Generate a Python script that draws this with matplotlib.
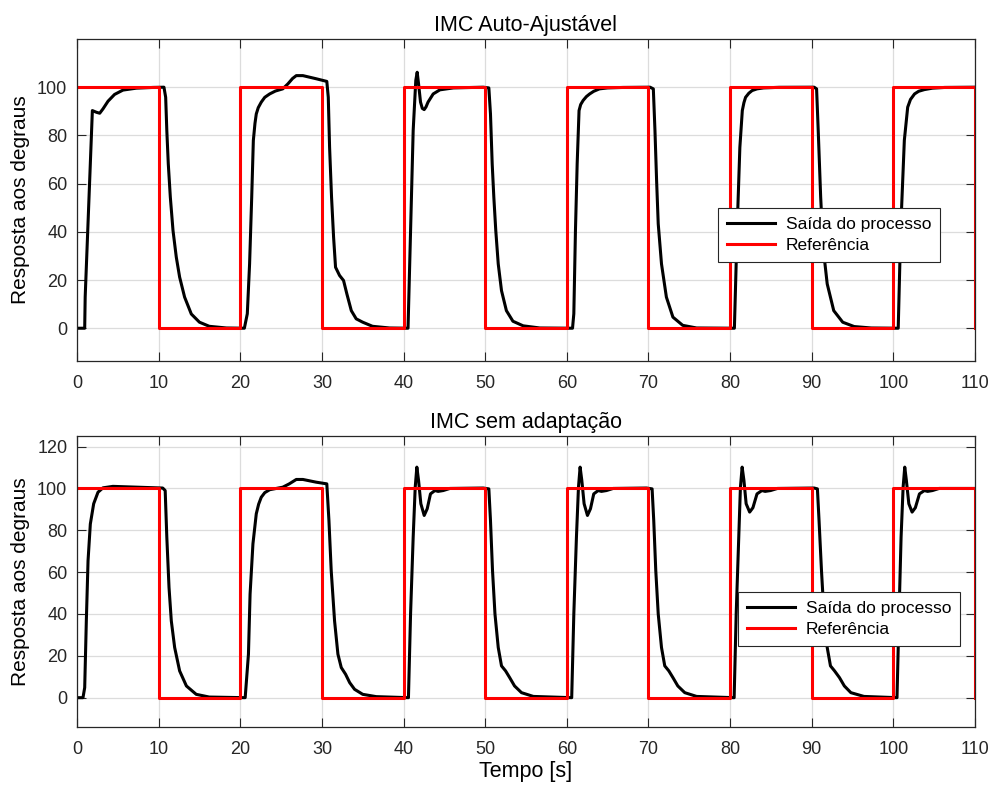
import matplotlib
matplotlib.use("Agg")
import matplotlib.pyplot as plt

plt.rcParams['font.family'] = ['Liberation Sans', 'DejaVu Sans']

# referencia (onda quadrada)
ref_t = [0, 10, 10, 20, 20, 30, 30, 40, 40, 50, 50, 60, 60, 70, 70, 80, 80, 90, 90, 100, 100, 110, 110]
ref_y = [100, 100, 0, 0, 100, 100, 0, 0, 100, 100, 0, 0, 100, 100, 0, 0, 100, 100, 0, 0, 100, 100, 0]

# IMC auto-ajustavel (saida do processo)
auto_t = [0, 0.94, 1.0, 1.88, 2.37, 2.78, 3.18, 3.8, 4.6, 5.63, 7.27, 9.3, 10.65,
          10.86, 11.0, 11.18, 11.43, 11.76, 12.16, 12.57, 13.18, 14.0, 15.0, 16.2, 18.3, 20.5,
          20.86, 21.14, 21.4, 21.6, 21.8, 21.96, 22.2, 22.57, 23.0, 23.6, 24.3, 25.2, 25.84, 26.4, 26.86, 27.67, 29.3, 30.6,
          30.78, 30.94, 31.18, 31.43, 31.67, 32.16, 32.65, 33.06, 33.6, 34.2, 35.0, 36.2, 38.3, 40.55,
          40.86, 41.18, 41.5, 41.67, 41.84, 42.08, 42.3, 42.53, 42.75, 43.0, 43.63, 44.45, 46.1, 49.76, 50.45,
          50.65, 50.86, 51.06, 51.3, 51.6, 52.0, 52.6, 53.4, 54.65, 56.7, 60.7,
          60.86, 61.06, 61.27, 61.5, 61.7, 62.0, 62.4, 62.8, 63.3, 64.0, 65.0, 66.9, 70.2, 70.6,
          70.8, 71.0, 71.2, 71.6, 72.2, 73.0, 74.2, 75.9, 80.53,
          80.86, 81.2, 81.5, 81.7, 81.9, 82.3, 82.7, 83.3, 84.1, 86.0, 90.3, 90.6,
          90.8, 91.1, 91.4, 91.9, 92.7, 93.8, 95.2, 97.3, 100.6,
          100.9, 101.35, 101.76, 102.1, 102.6, 103.1, 103.8, 104.8, 106.3, 110]
auto_y = [0, 0, 13, 90.3, 89.6, 89.2, 91, 94.2, 97, 98.8, 99.6, 99.9, 100,
          95.8, 82, 68.2, 54.4, 40.5, 29.5, 21.2, 12.9, 5.9, 2.5, 0.8, 0.1, 0,
          6, 26.7, 54.4, 77.9, 85, 88.9, 91.5, 93.8, 95.8, 97.2, 98.4, 99.3, 101.4, 103.6, 104.8, 104.8, 103.5, 102.4,
          95.8, 75.1, 54.4, 37.8, 25.3, 21.9, 19.8, 14.2, 7.3, 3.9, 2.5, 0.8, 0.1, 0,
          40.5, 82, 102.8, 106.2, 101.4, 93.8, 91.2, 90.7, 91.8, 93.8, 97.2, 98.9, 99.7, 100, 99.7,
          88.9, 68.2, 54.4, 40.5, 26.7, 15.6, 7.3, 2.9, 1.0, 0.1, 0,
          6, 40.5, 68.2, 90.3, 92.8, 94.5, 96.1, 97.2, 98.3, 99.3, 99.7, 99.9, 100, 99.3,
          82, 61.3, 43.3, 26.7, 12.9, 4.6, 1.2, 0.1, 0,
          40.5, 75, 90.3, 93.6, 95.8, 97.5, 98.6, 99.3, 99.7, 99.95, 100, 99.3,
          82, 54.4, 33.6, 18.4, 7.3, 2.5, 0.7, 0.1, 0,
          40.5, 78, 91.7, 94.9, 97.2, 98.3, 99, 99.6, 99.9, 100]

# IMC sem adaptacao (saida do processo)
fixo_t = [0, 0.73, 0.94, 1.14, 1.35, 1.63, 2.04, 2.57, 3.18, 4.4, 7.27, 10.5,
          10.8, 11.0, 11.27, 11.55, 11.96, 12.57, 13.4, 14.6, 16.2, 20.6,
          21.0, 21.2, 21.55, 21.96, 22.25, 22.57, 23.0, 23.6, 25.2, 26.0, 26.86, 27.67, 29.3, 30.6,
          30.86, 31.14, 31.55, 31.96, 32.37, 32.9, 33.4, 34.0, 35.0, 36.65, 40.6,
          40.86, 41.18, 41.43, 41.63, 41.84, 42.12, 42.53, 42.9, 43.3, 43.84, 44.24, 44.86, 45.67, 49.76, 50.45,
          50.65, 50.9, 51.2, 51.6, 52.0, 52.5, 53.0, 53.6, 54.45, 55.9, 60.6,
          60.86, 61.18, 61.43, 61.63, 61.84, 62.12, 62.53, 62.9, 63.3, 63.84, 64.24, 64.86, 65.67, 69.76, 70.45,
          70.65, 70.9, 71.2, 71.6, 72.0, 72.5, 73.0, 73.6, 74.45, 75.9, 80.5,
          80.75, 81.07, 81.27, 81.48, 81.7, 81.97, 82.4, 82.8, 83.3, 83.9, 84.3, 84.96, 85.8, 90.3, 90.7,
          90.9, 91.2, 91.5, 91.9, 92.3, 92.8, 93.4, 94.0, 94.8, 96.4, 100.45,
          100.7, 100.95, 101.2, 101.4, 101.6, 101.9, 102.3, 102.7, 103.2, 103.8, 104.2, 104.8, 105.6, 110]
fixo_y = [0, 0, 4.8, 36.7, 65.5, 83, 92.7, 98.2, 100.3, 101, 100.6, 100.2,
          99, 76.7, 52.7, 36.7, 24, 12.8, 5.6, 1.6, 0.3, 0,
          20.8, 49.5, 73.5, 87.9, 92.5, 95.8, 98.0, 99.4, 100.6, 102.2, 104.3, 104.3, 103, 102.2,
          84.7, 60.7, 36.7, 20.8, 14.4, 11.2, 7.2, 4.0, 1.6, 0.5, 0,
          40, 76.7, 100.6, 110.2, 103.8, 92.7, 87.1, 90.3, 97.4, 99, 98.6, 99, 100, 100.2, 99.8,
          84.7, 60.7, 40, 24, 15.2, 12.8, 9.6, 5.6, 2.4, 0.6, 0,
          40, 76.7, 100.6, 110.2, 103.8, 92.7, 87.1, 90.3, 97.4, 99, 98.6, 99, 100, 100.2, 99.8,
          84.7, 60.7, 40, 24, 15.2, 12.8, 9.6, 5.6, 2.4, 0.6, 0,
          40, 76.7, 100.6, 110.2, 103.8, 92.7, 88.7, 90.8, 97.4, 99, 98.6, 99, 100, 100.2, 99.8,
          84.7, 60.7, 40, 24, 15.2, 12.8, 9.6, 5.6, 2.4, 0.6, 0,
          40, 76.7, 100.6, 110.2, 103.8, 92.7, 88.7, 90.8, 97.4, 99, 98.6, 99, 100, 100]

xticks = list(range(0, 111, 10))
titles = ["IMC Auto-Ajustável", "IMC sem adaptação"]
legend_labels = ["Saída do processo", "Referência"]

fig = plt.figure(figsize=(9.9, 7.86), dpi=100)
ax1 = fig.add_axes([0.0778, 0.5407, 0.907, 0.4097])
ax2 = fig.add_axes([0.0778, 0.0751, 0.907, 0.370])

edge = '#262626'
for ax, t, y, title, ylim, yt, leg_c in [
        (ax1, auto_t, auto_y, titles[0], (-13.6, 120), range(0, 101, 20), (0.8375, 0.3915)),
        (ax2, fixo_t, fixo_y, titles[1], (-14, 125), range(0, 121, 20), (0.8597, 0.371))]:
    ax.plot(t, y, color='black', lw=2.2, label=legend_labels[0])
    ax.plot(ref_t, ref_y, color='red', lw=2.2, label=legend_labels[1])
    ax.set_xlim(0, 110)
    ax.set_ylim(*ylim)
    ax.set_xticks(xticks)
    ax.set_yticks(list(yt))
    ax.grid(True, color='#dcdcdc', lw=0.9)
    ax.set_axisbelow(True)
    ax.tick_params(direction='in', top=True, right=True, length=6.5, width=0.8,
                   labelsize=13, colors=edge, pad=7)
    ax.tick_params(axis='x', pad=10)
    for s in ax.spines.values():
        s.set_color(edge)
        s.set_linewidth(0.9)
    ax.set_title(title, fontsize=15.5, color='#000000', pad=6)
    ax.set_ylabel("Resposta aos degraus", fontsize=15, color='#000000', labelpad=5)
    leg = ax.legend(loc='center', bbox_to_anchor=leg_c, fontsize=12.5, frameon=True,
                    fancybox=False, framealpha=1, edgecolor='#262626',
                    handlelength=2.8, borderpad=0.5, labelspacing=0.35, handletextpad=0.6)
    leg.get_frame().set_linewidth(0.8)

ax2.set_xlabel("Tempo [s]", fontsize=15.5, color='#000000', labelpad=2)

plt.savefig("out.png", dpi=100)
